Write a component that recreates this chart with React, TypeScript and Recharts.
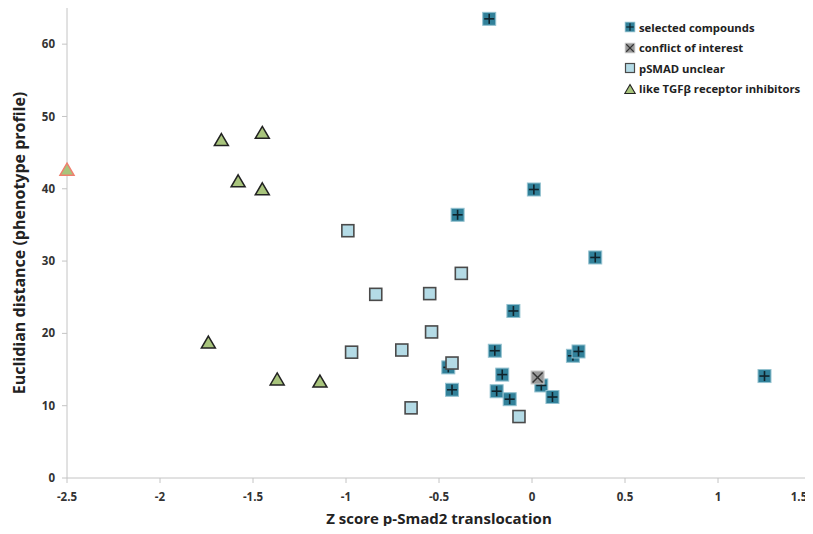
import React from "react";
import { ScatterChart, Scatter, XAxis, YAxis, Legend, Label } from "recharts";

// selected compounds (dark teal with cross)
const selectedX = [-0.23, 0.01, -0.4, 0.34, -0.1, -0.2, 0.22, 0.25, -0.45, -0.16, -0.43, -0.19, -0.12, 0.05, 0.11, 1.25];
const selectedY = [63.5, 39.9, 36.4, 30.5, 23.1, 17.6, 16.9, 17.5, 15.3, 14.3, 12.2, 12.0, 10.9, 12.8, 11.2, 14.1];

// conflict of interest
const conflictX = [0.03];
const conflictY = [13.9];

// pSMAD unclear
const unclearX = [-0.99, -0.84, -0.55, -0.38, -0.54, -0.97, -0.7, -0.43, -0.65, -0.07];
const unclearY = [34.2, 25.4, 25.5, 28.3, 20.2, 17.4, 17.7, 15.9, 9.7, 8.5];

// like TGFβ receptor inhibitors (first one outlined in red)
const tgfbX = [-2.5, -1.67, -1.45, -1.58, -1.45, -1.74, -1.37, -1.14];
const tgfbY = [42.7, 46.8, 47.8, 41.1, 40.0, 18.8, 13.7, 13.4];
const tgfbFlag = [true, false, false, false, false, false, false, false];

const xTicks = [-2.5, -2, -1.5, -1, -0.5, 0, 0.5, 1, 1.5];
const yTicks = [0, 10, 20, 30, 40, 50, 60];

const FONT = "'Open Sans', sans-serif";
const TEAL = "#31819a";
const LIGHT = "#b4dbe6";
const GREEN = "#a8c47c";
const W = 813;

const zip = (xs: number[], ys: number[], flags: boolean[] = []) =>
  xs.map((x, i) => ({ x, y: ys[i], flag: !!flags[i] }));

function SelectedShape(props: any) {
  const { cx, cy } = props;
  const s = 6.5;
  return (
    <g>
      <rect x={cx - s} y={cy - s} width={s * 2} height={s * 2} fill={TEAL} stroke="#94c2d0" strokeWidth={1} />
      <line x1={cx - 5} x2={cx + 5} y1={cy} y2={cy} stroke="#10232b" strokeWidth={1.6} />
      <line x1={cx} x2={cx} y1={cy - 5} y2={cy + 5} stroke="#10232b" strokeWidth={1.6} />
    </g>
  );
}

function ConflictShape(props: any) {
  const { cx, cy } = props;
  const s = 6.5;
  return (
    <g>
      <rect x={cx - s} y={cy - s} width={s * 2} height={s * 2} fill="#9a9a9a" stroke="#c8c8c8" strokeWidth={1} />
      <line x1={cx - 5} x2={cx + 5} y1={cy - 5} y2={cy + 5} stroke="#333" strokeWidth={1.5} />
      <line x1={cx - 5} x2={cx + 5} y1={cy + 5} y2={cy - 5} stroke="#333" strokeWidth={1.5} />
    </g>
  );
}

function UnclearShape(props: any) {
  const { cx, cy } = props;
  const s = 6;
  return <rect x={cx - s} y={cy - s} width={s * 2} height={s * 2} fill={LIGHT} stroke="#4a4a4a" strokeWidth={1.6} />;
}

function TriangleShape(props: any) {
  const { cx, cy, payload } = props;
  const w = 7;
  const h = 6;
  const d = `M${cx},${cy - h} L${cx + w},${cy + h} L${cx - w},${cy + h} Z`;
  return <path d={d} fill={GREEN} stroke={payload && payload.flag ? "#ef7f6e" : "#222"} strokeWidth={1.5} />;
}

const legendItems = [
  { label: "selected compounds", Icon: SelectedShape },
  { label: "conflict of interest", Icon: ConflictShape },
  { label: "pSMAD unclear", Icon: UnclearShape },
  { label: "like TGFβ receptor inhibitors", Icon: TriangleShape },
];

function renderLegend() {
  return (
    <div style={{ fontFamily: FONT, fontWeight: "bold", fontSize: 11.3, color: "#222" }}>
      {legendItems.map(({ label, Icon }) => (
        <div key={label} style={{ display: "flex", alignItems: "center", height: 20.5 }}>
          <svg width={12} height={12} style={{ marginRight: 3 }}>
            <g transform="translate(6,6) scale(0.75) translate(-6,-6)">
              <Icon cx={6} cy={6} payload={{ flag: false }} />
            </g>
          </svg>
          <span>{label}</span>
        </div>
      ))}
    </div>
  );
}

const tickStyle = { fontFamily: FONT, fontWeight: "bold", fontSize: 11.5, fill: "#333" };

// keep the last x label inside the picture, like the original
function XTick(props: any) {
  const { x, y, payload } = props;
  const tx = Math.min(x, W - 14);
  return (
    <text x={tx} y={y} dy={12} textAnchor="middle" style={tickStyle}>
      {payload.value}
    </text>
  );
}

export default function App() {
  return (
    <div style={{ margin: -8, width: W, height: 534, background: "#fff" }}>
      <ScatterChart width={W} height={534} margin={{ top: 8, right: 2, bottom: 0, left: 0 }}>
        <XAxis
          type="number"
          dataKey="x"
          domain={[-2.5, 1.5]}
          ticks={xTicks}
          tick={<XTick />}
          tickSize={5}
          tickMargin={6}
          stroke="#c4c4c4"
          height={56}
        >
          <Label
            value="Z score p-Smad2 translocation"
            position="insideBottom"
            offset={10}
            style={{ fontFamily: FONT, fontWeight: "bold", fontSize: 15, fill: "#222" }}
          />
        </XAxis>
        <YAxis
          type="number"
          dataKey="y"
          domain={[0, 65]}
          ticks={yTicks}
          tick={tickStyle}
          tickSize={5}
          tickMargin={7}
          stroke="#c4c4c4"
          width={67}
        >
          <Label
            value="Euclidian distance (phenotype profile)"
            angle={-90}
            position="insideLeft"
            offset={19}
            style={{ textAnchor: "middle", fontFamily: FONT, fontWeight: "bold", fontSize: 16, fill: "#222" }}
          />
        </YAxis>
        <Legend
          layout="vertical"
          align="center"
          verticalAlign="middle"
          content={renderLegend}
          wrapperStyle={{ top: 17, left: 624, width: 190 }}
        />
        <Scatter name="selected compounds" data={zip(selectedX, selectedY)} shape={<SelectedShape />} isAnimationActive={false} />
        <Scatter name="conflict of interest" data={zip(conflictX, conflictY)} shape={<ConflictShape />} isAnimationActive={false} />
        <Scatter name="pSMAD unclear" data={zip(unclearX, unclearY)} shape={<UnclearShape />} isAnimationActive={false} />
        <Scatter
          name="like TGFβ receptor inhibitors"
          data={zip(tgfbX, tgfbY, tgfbFlag)}
          shape={<TriangleShape />}
          isAnimationActive={false}
        />
      </ScatterChart>
    </div>
  );
}
